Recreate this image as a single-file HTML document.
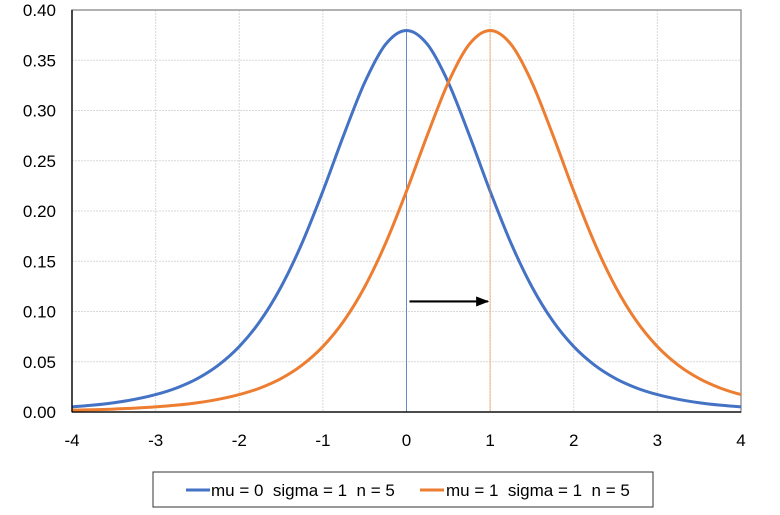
<!DOCTYPE html>
<html><head><meta charset="utf-8"><style>
body{margin:0;background:#fff;}
svg text{font-family:"Liberation Sans",sans-serif;font-size:17px;fill:#000;white-space:pre;}
</style></head><body>
<svg width="780" height="510">
<g id="grid"></g>
<rect x="72" y="10" width="669" height="402" fill="none" stroke="#999" stroke-width="1.5"/>
<g id="ylabels"></g>
<g id="xlabels"></g>
<g id="series"></g>
<line x1="72" y1="10" x2="72" y2="412" stroke="#000" stroke-width="1.3"/>
<line x1="72" y1="412" x2="741" y2="412" stroke="#000" stroke-width="1.3"/>
<defs><marker id="ah" markerUnits="userSpaceOnUse" markerWidth="13" markerHeight="10" refX="12" refY="5" orient="auto"><path d="M0,0 L13,5 L0,10 z" fill="#000"/></marker></defs>
<line id="arrow" stroke="#000" stroke-width="2.2" marker-end="url(#ah)"/>
<g>
<rect x="153" y="472" width="500" height="35" fill="#fff" stroke="#333" stroke-width="1"/>
<line x1="186" y1="490" x2="210" y2="490" stroke="#4472C4" stroke-width="3"/>
<text x="211" y="496" xml:space="preserve">mu = 0  sigma = 1  n = 5</text>
<line x1="420" y1="490" x2="444" y2="490" stroke="#ED7D31" stroke-width="3"/>
<text x="446" y="496" xml:space="preserve">mu = 1  sigma = 1  n = 5</text>
</g>
</svg>
<script>
const xTicks=[-4,-3,-2,-1,0,1,2,3,4];
const yTicks=[0,0.05,0.10,0.15,0.20,0.25,0.30,0.35,0.40];
const xs=[-5,-4.75,-4.5,-4.25,-4,-3.75,-3.5,-3.25,-3,-2.75,-2.5,-2.25,-2,-1.75,-1.5,-1.25,-1,-0.75,-0.5,-0.25,0,0.25,0.5,0.75,1,1.25,1.5,1.75,2,2.25,2.5,2.75,3,3.25,3.5,3.75,4,4.25,4.5,4.75,5];
const density=[0.0018,0.0023,0.0029,0.0039,0.0051,0.0068,0.0092,0.0126,0.0173,0.0239,0.0333,0.0466,0.0651,0.0905,0.1245,0.1679,0.2197,0.2757,0.3279,0.3658,0.3796,0.3658,0.3279,0.2757,0.2197,0.1679,0.1245,0.0905,0.0651,0.0466,0.0333,0.0239,0.0173,0.0126,0.0092,0.0068,0.0051,0.0039,0.0029,0.0023,0.0018];
const means=[0,1];
const colors=["#4472C4","#ED7D31"];
const NS="http://www.w3.org/2000/svg";
const X=v=>72+(v+4)*(669/8);
const Y=v=>412-v*1005;
function mk(t,a,p){const e=document.createElementNS(NS,t);for(const k in a)e.setAttribute(k,a[k]);p.appendChild(e);return e;}
const grid=document.getElementById('grid'),yl=document.getElementById('ylabels'),xl=document.getElementById('xlabels'),ser=document.getElementById('series');
yTicks.forEach(t=>{
 if(t>0){const g=mk('line',{x1:72,x2:741,y1:Y(t),y2:Y(t),stroke:'#d9d9d9','stroke-dasharray':'2,1'},grid);
 
 }
 const tx=mk('text',{x:56,y:Y(t)+6,'text-anchor':'end'},yl);tx.textContent=t.toFixed(2);
 
 
});
xTicks.forEach(t=>{
 if(t>-4&&t<4){const g=mk('line',{x1:X(t),x2:X(t),y1:10,y2:412,stroke:'#d9d9d9','stroke-dasharray':'2,1'},grid);
 
 }
 const tx=mk('text',{x:X(t),y:446,'text-anchor':'middle'},xl);tx.textContent=t;
 
 
});
const clip=mk('clipPath',{id:'pc'},document.querySelector('defs'));mk('rect',{x:72,y:0,width:669,height:412},clip);
means.forEach((m,si)=>{
 const pts=xs.map((x,i)=>[X(x+m),Y(density[i])]);
 let d='M'+pts[0][0]+','+pts[0][1];
 for(let i=0;i<pts.length-1;i++){const p0=pts[Math.max(i-1,0)],p1=pts[i],p2=pts[i+1],p3=pts[Math.min(i+2,pts.length-1)];
  d+=' C'+(p1[0]+(p2[0]-p0[0])/6)+','+(p1[1]+(p2[1]-p0[1])/6)+' '+(p2[0]-(p3[0]-p1[0])/6)+','+(p2[1]-(p3[1]-p1[1])/6)+' '+p2[0]+','+p2[1];}
 const peak=density[xs.indexOf(0)];
 const vl=mk('line',{x1:X(m),x2:X(m),y1:Y(peak),y2:412,stroke:colors[si],'stroke-width':1,opacity:si?0.5:0.8},ser);
 
 
 const p=mk('path',{d:d,fill:'none',stroke:colors[si],'stroke-width':3,'clip-path':'url(#pc)'},ser);
 
 
});
const ar=document.getElementById('arrow');
ar.setAttribute('x1',X(means[0])+3);ar.setAttribute('x2',X(means[1])-2);
ar.setAttribute('y1',Y(0.11));ar.setAttribute('y2',Y(0.11));
</script>
</body></html>
